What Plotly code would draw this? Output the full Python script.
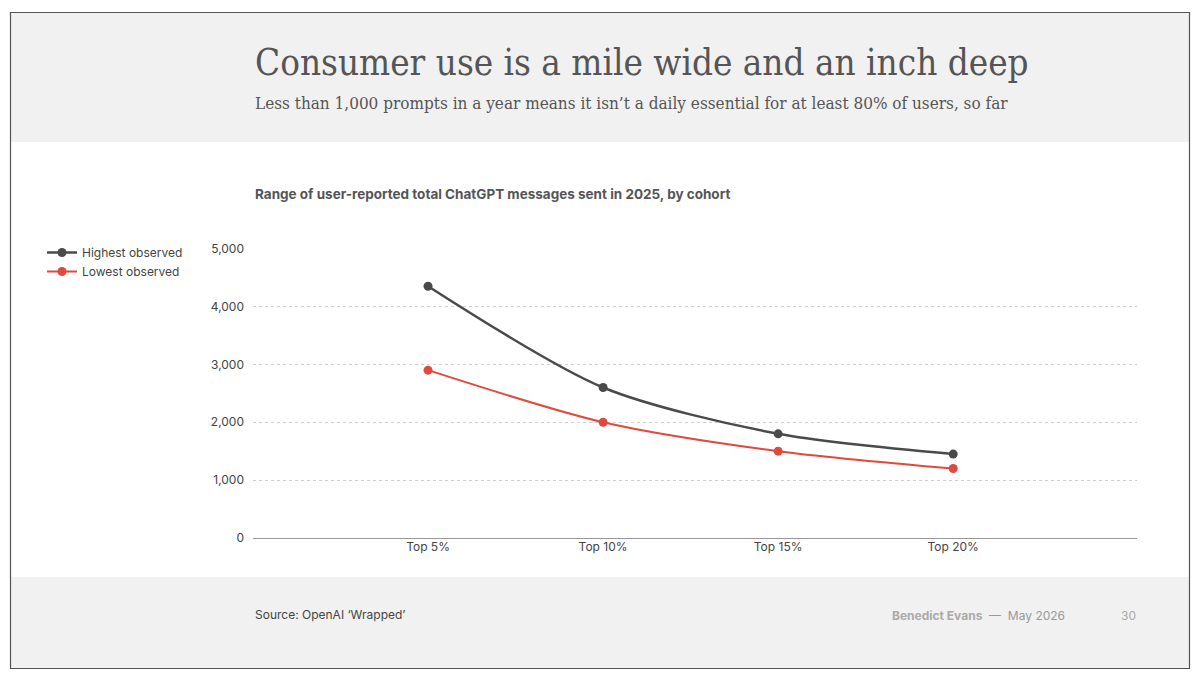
import plotly.graph_objects as go

categories = ["Top 5%", "Top 10%", "Top 15%", "Top 20%"]
highest = [4350, 2600, 1800, 1450]
lowest = [2900, 2000, 1500, 1200]

OFF = 8
L, R, T, B = 253 - OFF, 1137 - OFF, 248 - OFF, 538 - OFF
W, H = 1184, 661
def px(x): return (x - OFF - L) / (R - L)
def py(y): return (B - (y - OFF)) / (B - T)

fig = go.Figure()
fig.add_trace(go.Scatter(x=[0, 1, 2, 3], y=highest, name="Highest observed", mode="lines+markers",
                         line=dict(color="#4a4a4a", width=2.5, shape="spline", smoothing=0.8),
                         marker=dict(size=9, color="#4a4a4a")))
fig.add_trace(go.Scatter(x=[0, 1, 2, 3], y=lowest, name="Lowest observed", mode="lines+markers",
                         line=dict(color="#e0493d", width=2, shape="spline", smoothing=0.8),
                         marker=dict(size=9, color="#e0493d")))

shapes = [
    dict(type="rect", xref="paper", yref="paper", x0=px(11), x1=px(1189), y0=py(142), y1=py(13),
         fillcolor="#f1f1f1", line_width=0, layer="below"),
    dict(type="rect", xref="paper", yref="paper", x0=px(11), x1=px(1189), y0=py(668), y1=py(577),
         fillcolor="#f1f1f1", line_width=0, layer="below"),
    dict(type="rect", xref="paper", yref="paper", x0=px(10.5), x1=px(1189.5), y0=py(668.5), y1=py(12.5),
         fillcolor="rgba(0,0,0,0)", line=dict(color="#555", width=1.2)),
]

def ann(text, x, y, size, color, family, xanchor="left", yanchor="middle"):
    return dict(text=text, x=px(x), y=py(y), xref="paper", yref="paper", showarrow=False,
                xanchor=xanchor, yanchor=yanchor, font=dict(size=size, color=color, family=family))

sans = "Inter, Roboto, sans-serif"
serif = "DejaVu Serif Condensed, DejaVu Serif"
annotations = [
    ann("Consumer use is a mile wide and an inch deep", 253, 62, 36.5, "#555", serif),
    ann("Less than 1,000 prompts in a year means it isn\u2019t a daily essential for at least 80% of users, so far",
        253, 103, 17, "#555", serif),
    ann("<b>Range of user-reported total ChatGPT messages sent in 2025, by cohort</b>", 253, 194, 13.5, "#555", sans),
    ann("Source: OpenAI \u2018Wrapped\u2019", 253, 614, 12, "#444", sans),
    ann("<b>Benedict Evans</b>  <span style='color:#999'>\u2014  May 2026</span>", 1067, 615, 12, "#aaa", sans, xanchor="right"),
    ann("30", 1138, 615, 12, "#aaa", sans, xanchor="right"),
]

fig.update_layout(
    width=W, height=H, margin=dict(l=L, r=W - R, t=T, b=H - B),
    paper_bgcolor="white", plot_bgcolor="white",
    font=dict(family=sans, color="#555", size=12),
    shapes=shapes, annotations=annotations,
    showlegend=True,
    legend=dict(x=px(42), y=py(238), xanchor="left", yanchor="top", bgcolor="rgba(0,0,0,0)",
                font=dict(size=12, color="#444"), tracegroupgap=0, itemwidth=30),
    xaxis=dict(range=[-1.0, 4.05], tickmode="array", tickvals=[0, 1, 2, 3], ticktext=categories,
               showgrid=False, zeroline=False, showline=False, tickfont=dict(size=12, color="#444"), ticks=""),
    yaxis=dict(range=[0, 5010], tickvals=[0, 1000, 2000, 3000, 4000, 5000], tickformat=",d",
               showgrid=True, gridcolor="#cfcfcf", griddash="dot", gridwidth=1,
               zeroline=True, zerolinecolor="#999", zerolinewidth=1,
               tickfont=dict(size=12, color="#444"), ticklabelstandoff=8),
)
fig.write_html("out.html")
